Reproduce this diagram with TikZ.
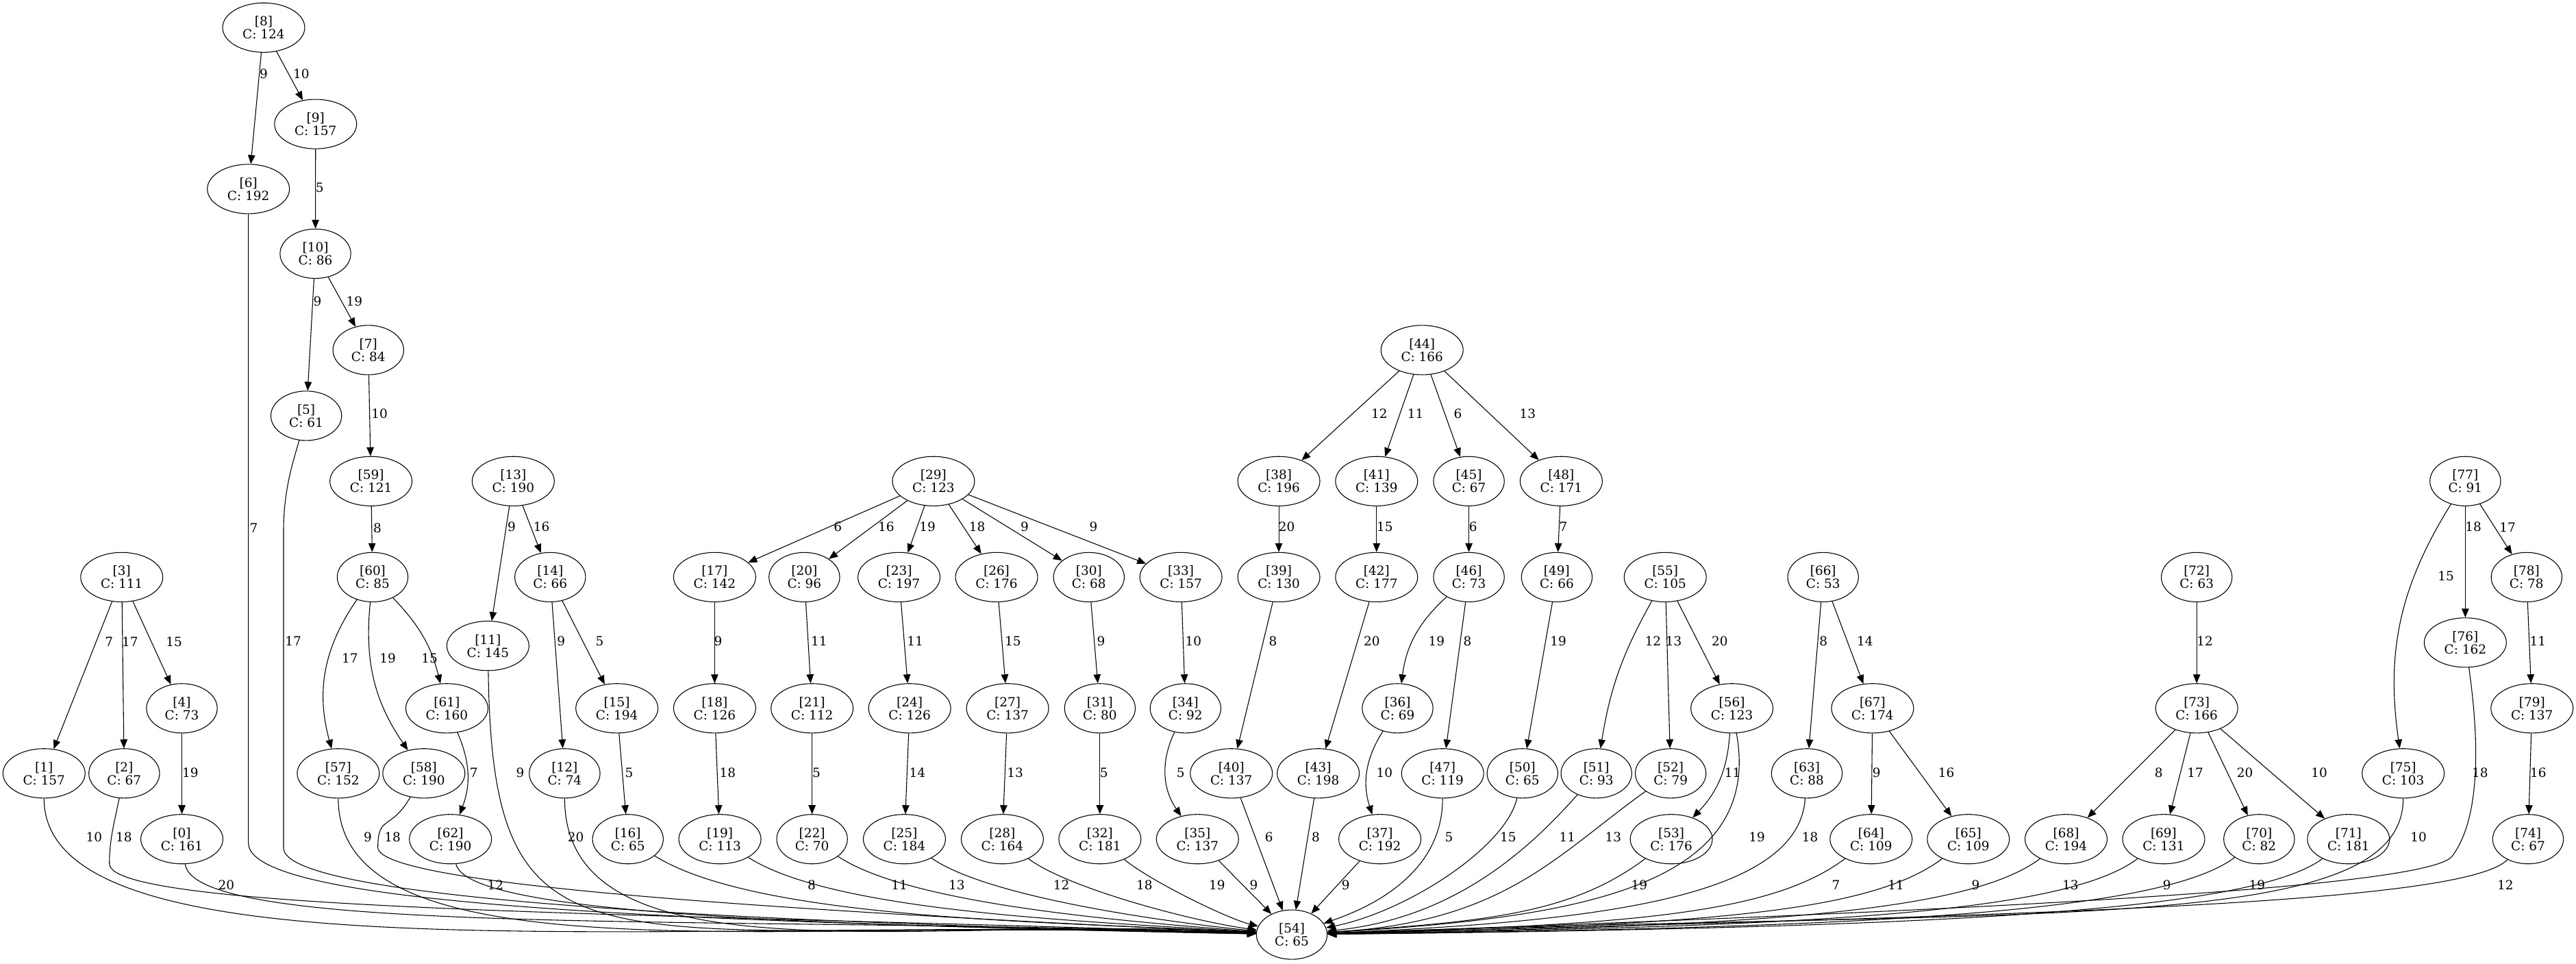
\documentclass[tikz,border=0pt]{standalone}
\usepackage{fontspec}
\setmainfont{DejaVu Serif}
\usetikzlibrary{shapes.geometric,arrows.meta}
\newcommand\gvfont{\fontsize{7.7}{7.9}\selectfont}
\tikzset{
  st/.style={draw, ellipse, line width=0.45pt, inner xsep=4.86pt, inner ysep=3.7pt, align=center, font=\gvfont},
  lb/.style={inner sep=0pt, font=\gvfont},
  ed/.style={-{Triangle[length=5.4pt,width=4.4pt]}, line width=0.45pt},
}

\begin{document}
\begin{tikzpicture}[x=1pt,y=-1pt]
  \useasboundingbox (0,0) rectangle (1568,586.2);

  % nodes
  \node[st] (n8) at (160.5,16.8) {[8]\\C: 124};
  \node[st] (n9) at (192.1,75.5) {[9]\\C: 157};
  \node[st] (n6) at (151.2,115) {[6]\\C: 192};
  \node[st] (n10) at (192,154.4) {[10]\\C: 86};
  \node[st] (n7) at (224.2,213) {[7]\\C: 84};
  \node[st] (n5) at (186.4,253) {[5]\\C: 61};
  \node[st] (n59) at (225.8,292.8) {[59]\\C: 121};
  \node[st] (n60) at (226.8,351.2) {[60]\\C: 85};
  \node[st] (n61) at (272,431) {[61]\\C: 160};
  \node[st] (n57) at (205.9,470.6) {[57]\\C: 152};
  \node[st] (n58) at (258,470.6) {[58]\\C: 190};
  \node[st] (n62) at (274.2,510.6) {[62]\\C: 190};
  \node[st] (n3) at (74.1,351.2) {[3]\\C: 111};
  \node[st] (n1) at (26.8,470.6) {[1]\\C: 157};
  \node[st] (n2) at (75.6,470.6) {[2]\\C: 67};
  \node[st] (n4) at (110.7,431) {[4]\\C: 73};
  \node[st] (n0) at (110.7,510.6) {[0]\\C: 161};
  \node[st] (n13) at (312.4,292.8) {[13]\\C: 190};
  \node[st] (n14) at (334.9,351.2) {[14]\\C: 66};
  \node[st] (n11) at (297,393) {[11]\\C: 145};
  \node[st] (n15) at (375.5,431) {[15]\\C: 194};
  \node[st] (n12) at (343.7,470.6) {[12]\\C: 74};
  \node[st] (n16) at (382.2,510.6) {[16]\\C: 65};
  \node[st] (n29) at (568.2,292.8) {[29]\\C: 123};
  \node[st] (n17) at (435,351.2) {[17]\\C: 142};
  \node[st] (n20) at (489.6,351.2) {[20]\\C: 96};
  \node[st] (n23) at (547.2,351.2) {[23]\\C: 197};
  \node[st] (n26) at (606.6,351.2) {[26]\\C: 176};
  \node[st] (n30) at (662.8,351.2) {[30]\\C: 68};
  \node[st] (n33) at (718.8,351.2) {[33]\\C: 157};
  \node[st] (n18) at (435,431) {[18]\\C: 126};
  \node[st] (n21) at (494.3,431) {[21]\\C: 112};
  \node[st] (n24) at (553.7,431) {[24]\\C: 126};
  \node[st] (n27) at (613.3,431) {[27]\\C: 137};
  \node[st] (n31) at (669.5,431) {[31]\\C: 80};
  \node[st] (n34) at (721.6,431) {[34]\\C: 92};
  \node[st] (n19) at (438.2,510.6) {[19]\\C: 113};
  \node[st] (n22) at (494.3,510.6) {[22]\\C: 70};
  \node[st] (n25) at (550.5,510.6) {[25]\\C: 184};
  \node[st] (n28) at (610.1,510.6) {[28]\\C: 164};
  \node[st] (n32) at (669.5,510.6) {[32]\\C: 181};
  \node[st] (n35) at (728.9,510.6) {[35]\\C: 137};
  \node[st] (n44) at (865.6,213) {[44]\\C: 166};
  \node[st] (n38) at (778.4,292.8) {[38]\\C: 196};
  \node[st] (n41) at (837.9,292.8) {[41]\\C: 139};
  \node[st] (n45) at (894.1,292.8) {[45]\\C: 67};
  \node[st] (n48) at (950.3,292.8) {[48]\\C: 171};
  \node[st] (n39) at (778.4,351.2) {[39]\\C: 130};
  \node[st] (n42) at (837.9,351.2) {[42]\\C: 177};
  \node[st] (n46) at (894.1,351.2) {[46]\\C: 73};
  \node[st] (n49) at (947.6,351.2) {[49]\\C: 66};
  \node[st] (n36) at (850.7,431) {[36]\\C: 69};
  \node[st] (n40) at (749.5,470.6) {[40]\\C: 137};
  \node[st] (n43) at (802.4,470.6) {[43]\\C: 198};
  \node[st] (n47) at (878.1,470.6) {[47]\\C: 119};
  \node[st] (n50) at (926.7,470.6) {[50]\\C: 65};
  \node[st] (n37) at (839.9,510.6) {[37]\\C: 192};
  \node[st] (n55) at (1013.6,351.2) {[55]\\C: 105};
  \node[st] (n56) at (1054.2,431) {[56]\\C: 123};
  \node[st] (n51) at (971.7,470.6) {[51]\\C: 93};
  \node[st] (n52) at (1016.9,470.6) {[52]\\C: 79};
  \node[st] (n53) at (1017.3,510.6) {[53]\\C: 176};
  \node[st] (n66) at (1109.7,351.2) {[66]\\C: 53};
  \node[st] (n67) at (1139.8,431) {[67]\\C: 174};
  \node[st] (n63) at (1099.8,470.6) {[63]\\C: 88};
  \node[st] (n64) at (1138.9,510.6) {[64]\\C: 109};
  \node[st] (n65) at (1198.1,510.6) {[65]\\C: 109};
  \node[st] (n72) at (1337.1,351.2) {[72]\\C: 63};
  \node[st] (n73) at (1337.1,431) {[73]\\C: 166};
  \node[st] (n68) at (1257.6,510.6) {[68]\\C: 194};
  \node[st] (n69) at (1317,510.6) {[69]\\C: 131};
  \node[st] (n70) at (1375.1,510.6) {[70]\\C: 82};
  \node[st] (n71) at (1429.5,510.6) {[71]\\C: 181};
  \node[st] (n77) at (1500.6,292.8) {[77]\\C: 91};
  \node[st] (n78) at (1537.9,351.2) {[78]\\C: 78};
  \node[st] (n76) at (1500.6,391) {[76]\\C: 162};
  \node[st] (n79) at (1541.2,431) {[79]\\C: 137};
  \node[st] (n75) at (1462.8,470.6) {[75]\\C: 103};
  \node[st] (n74) at (1538.8,510.6) {[74]\\C: 67};
  \node[st] (n54) at (786.3,568.7) {[54]\\C: 65};

  % tree edges
  \draw[ed] (n8) -- (n6);
  \draw[ed] (n8) -- (n9);
  \draw[ed] (n9) -- (n10);
  \draw[ed] (n10) -- (n5);
  \draw[ed] (n10) -- (n7);
  \draw[ed] (n7) -- (n59);
  \draw[ed] (n59) -- (n60);
  \draw[ed] (n60) to[bend right=25] (n57);
  \draw[ed] (n60) to[bend right=20] (n58);
  \draw[ed] (n60) to[bend left=15] (n61);
  \draw[ed] (n61) to[bend left=22] (n62);
  \draw[ed] (n3) -- (n1);
  \draw[ed] (n3) -- (n2);
  \draw[ed] (n3) -- (n4);
  \draw[ed] (n4) -- (n0);
  \draw[ed] (n13) -- (n11);
  \draw[ed] (n13) -- (n14);
  \draw[ed] (n14) -- (n12);
  \draw[ed] (n14) -- (n15);
  \draw[ed] (n15) -- (n16);
  \draw[ed] (n29) -- (n17);
  \draw[ed] (n29) -- (n20);
  \draw[ed] (n29) -- (n23);
  \draw[ed] (n29) -- (n26);
  \draw[ed] (n29) -- (n30);
  \draw[ed] (n29) -- (n33);
  \draw[ed] (n17) -- (n18);
  \draw[ed] (n18) -- (n19);
  \draw[ed] (n20) -- (n21);
  \draw[ed] (n21) -- (n22);
  \draw[ed] (n23) -- (n24);
  \draw[ed] (n24) -- (n25);
  \draw[ed] (n26) -- (n27);
  \draw[ed] (n27) -- (n28);
  \draw[ed] (n30) -- (n31);
  \draw[ed] (n31) -- (n32);
  \draw[ed] (n33) -- (n34);
  \draw[ed] (n34) to[bend right=30] (n35);
  \draw[ed] (n44) -- (n38);
  \draw[ed] (n44) -- (n41);
  \draw[ed] (n44) -- (n45);
  \draw[ed] (n44) -- (n48);
  \draw[ed] (n38) -- (n39);
  \draw[ed] (n39) -- (n40);
  \draw[ed] (n41) -- (n42);
  \draw[ed] (n42) -- (n43);
  \draw[ed] (n45) -- (n46);
  \draw[ed] (n46) to[bend right=20] (n36);
  \draw[ed] (n46) -- (n47);
  \draw[ed] (n36) to[bend right=25] (n37);
  \draw[ed] (n48) -- (n49);
  \draw[ed] (n49) -- (n50);
  \draw[ed] (n55) to[bend right=10] (n51);
  \draw[ed] (n55) -- (n52);
  \draw[ed] (n55) -- (n56);
  \draw[ed] (n56) to[bend left=20] (n53);
  \draw[ed] (n66) -- (n63);
  \draw[ed] (n66) -- (n67);
  \draw[ed] (n67) -- (n64);
  \draw[ed] (n67) -- (n65);
  \draw[ed] (n72) -- (n73);
  \draw[ed] (n73) -- (n68);
  \draw[ed] (n73) -- (n69);
  \draw[ed] (n73) -- (n70);
  \draw[ed] (n73) -- (n71);
  \draw[ed] (n77) to[bend right=20] (n75);
  \draw[ed] (n77) -- (n76);
  \draw[ed] (n77) -- (n78);
  \draw[ed] (n78) -- (n79);
  \draw[ed] (n79) -- (n74);

  % edges into [54]
  \draw[ed] (n1) .. controls +(0,130) and +(-366,-12.7) .. (n54);
  \draw[ed] (n2) .. controls +(-6,30) and +(0,-15) .. ++(-9,55) .. controls +(0,30) and +(-356,-12.7) .. (n54);
  \draw[ed] (n0) .. controls +(8,60) and +(-338,-12) .. (n54);
  \draw[ed] (n6) -- ++(0,398) .. controls +(0,38) and +(-380,-8) .. (n54);
  \draw[ed] (n5) .. controls +(-8,28) and +(0,-25) .. ++(-13.8,70) -- ++(0,193) .. controls +(0,30) and +(-360,-8) .. (n54);
  \draw[ed] (n57) .. controls +(0,130) and +(-290,-12.7) .. (n54);
  \draw[ed] (n58) .. controls +(-20,35) and +(0,-20) .. ++(-28,45) .. controls +(0,25) and +(-264,-12.7) .. (n54);
  \draw[ed] (n62) .. controls +(10,45) and +(-307,-6) .. (n54);
  \draw[ed] (n11) .. controls +(3,217) and +(-420,-12.7) .. (n54);
  \draw[ed] (n12) .. controls +(0,130) and +(-221,-12.7) .. (n54);
  \draw[ed] (n16) .. controls +(80,50) and +(-140,-8) .. (n54);
  \draw[ed] (n19) .. controls +(70,45) and +(-120,-8) .. (n54);
  \draw[ed] (n22) .. controls +(60,40) and +(-100,-8) .. (n54);
  \draw[ed] (n25) .. controls +(50,35) and +(-80,-8) .. (n54);
  \draw[ed] (n28) .. controls +(40,30) and +(-60,-8) .. (n54);
  \draw[ed] (n32) .. controls +(30,25) and +(-40,-10) .. (n54);
  \draw[ed] (n35) -- (n54);
  \draw[ed] (n40) -- (n54);
  \draw[ed] (n43) -- (n54);
  \draw[ed] (n37) -- (n54);
  \draw[ed] (n47) .. controls +(0,65) and +(40,-14) .. (n54);
  \draw[ed] (n50) .. controls +(-10,45) and +(70,-14) .. (n54);
  \draw[ed] (n51) .. controls +(-40,45) and +(100,-10) .. (n54);
  \draw[ed] (n52) .. controls +(-70,50) and +(130,-8) .. (n54);
  \draw[ed] (n53) .. controls +(-60,45) and +(120,-8) .. (n54);
  \draw[ed] (n56) .. controls +(20,110) and +(170,-10) .. (n54);
  \draw[ed] (n63) .. controls +(-5,75) and +(190,-8) .. (n54);
  \draw[ed] (n64) .. controls +(-60,45) and +(210,-6) .. (n54);
  \draw[ed] (n65) .. controls +(-60,45) and +(250,-6) .. (n54);
  \draw[ed] (n68) .. controls +(-60,45) and +(280,-5) .. (n54);
  \draw[ed] (n69) .. controls +(-60,45) and +(320,-5) .. (n54);
  \draw[ed] (n70) .. controls +(-60,45) and +(350,-4) .. (n54);
  \draw[ed] (n71) .. controls +(-60,45) and +(380,-4) .. (n54);
  \draw[ed] (n75) .. controls +(0,100) and +(450,-16.7) .. (n54);
  \draw[ed] (n76) .. controls +(10,70) and +(15,-20) .. ++(-8,130) .. controls +(-15,20) and +(400,-14) .. (n54);
  \draw[ed] (n74) .. controls +(-40,40) and +(450,-12) .. (n54);

  % edge labels
  \node[lb] (l8-6) at (160.5,44.9) {9};
  \node[lb] (l8-9) at (183.4,44.9) {10};
  \node[lb] (l9-10) at (194.6,114) {5};
  \node[lb] (l10-5) at (193.2,183.2) {9};
  \node[lb] (l10-7) at (215.7,183.2) {19};
  \node[lb] (l7-59) at (231,251.6) {10};
  \node[lb] (l59-60) at (229.7,321.5) {8};
  \node[lb] (l60-57) at (213,400.7) {17};
  \node[lb] (l60-58) at (236,400.7) {19};
  \node[lb] (l60-61) at (261.5,400.7) {15};
  \node[lb] (l61-62) at (288.4,470.3) {7};
  \node[lb] (l6-54) at (154.5,321.5) {7};
  \node[lb] (l5-54) at (178.5,390) {17};
  \node[lb] (l57-54) at (223.9,509.5) {9};
  \node[lb] (l58-54) at (238.9,509.5) {18};
  \node[lb] (l62-54) at (301.6,538.7) {12};
  \node[lb] (l3-1) at (66.4,390.5) {7};
  \node[lb] (l3-2) at (79.2,390.5) {17};
  \node[lb] (l3-4) at (105.9,390.5) {15};
  \node[lb] (l4-0) at (115.8,470.2) {19};
  \node[lb] (l1-54) at (57.3,509.3) {10};
  \node[lb] (l2-54) at (75.4,509.3) {18};
  \node[lb] (l0-54) at (137.7,538.7) {20};
  \node[lb] (l13-11) at (311.4,320.7) {9};
  \node[lb] (l13-14) at (329.6,320.7) {16};
  \node[lb] (l14-12) at (341.6,390) {9};
  \node[lb] (l14-15) at (365,390) {5};
  \node[lb] (l11-54) at (316.6,470.3) {9};
  \node[lb] (l12-54) at (350.5,509.5) {20};
  \node[lb] (l15-16) at (382.9,470.3) {5};
  \node[lb] (l16-54) at (494,538.7) {8};
  \node[lb] (l17-18) at (437.1,390) {9};
  \node[lb] (l18-19) at (442.9,470.3) {18};
  \node[lb] (l19-54) at (547.4,538.7) {11};
  \node[lb] (l20-21) at (498.6,390) {11};
  \node[lb] (l21-22) at (497,470.3) {5};
  \node[lb] (l22-54) at (582.4,538.7) {13};
  \node[lb] (l29-17) at (510,320.7) {6};
  \node[lb] (l29-20) at (539.4,320.7) {16};
  \node[lb] (l29-23) at (564.5,320.7) {19};
  \node[lb] (l29-26) at (594.8,320.7) {18};
  \node[lb] (l29-30) at (623.7,320.7) {9};
  \node[lb] (l29-33) at (665.6,320.7) {9};
  \node[lb] (l23-24) at (557,390) {11};
  \node[lb] (l26-27) at (616.6,390) {15};
  \node[lb] (l30-31) at (670.2,390) {9};
  \node[lb] (l33-34) at (726.4,390) {10};
  \node[lb] (l24-25) at (558.4,470.3) {14};
  \node[lb] (l27-28) at (617.9,470.3) {13};
  \node[lb] (l31-32) at (671.9,470.3) {5};
  \node[lb] (l34-35) at (718.6,470.3) {5};
  \node[lb] (l25-54) at (646,538.7) {12};
  \node[lb] (l28-54) at (696.6,538.7) {18};
  \node[lb] (l32-54) at (740.8,538.7) {19};
  \node[lb] (l35-54) at (763.1,538.7) {9};
  \node[lb] (l38-39) at (783.2,320.7) {20};
  \node[lb] (l39-40) at (774.8,390) {8};
  \node[lb] (l40-54) at (772.4,509.5) {6};
  \node[lb] (l44-38) at (839.6,251.6) {12};
  \node[lb] (l44-41) at (861.6,251.6) {11};
  \node[lb] (l44-45) at (887.4,251.6) {6};
  \node[lb] (l44-48) at (929.9,251.6) {13};
  \node[lb] (l41-42) at (842.9,320.7) {15};
  \node[lb] (l45-46) at (896.7,320.7) {6};
  \node[lb] (l48-49) at (951.6,320.7) {7};
  \node[lb] (l42-43) at (835,390) {20};
  \node[lb] (l46-36) at (874.4,390) {19};
  \node[lb] (l46-47) at (893.2,390) {8};
  \node[lb] (l49-50) at (948.5,390) {19};
  \node[lb] (l55-51) at (1006.2,390) {12};
  \node[lb] (l55-52) at (1018.8,390) {13};
  \node[lb] (l55-56) at (1046.8,390) {20};
  \node[lb] (l36-37) at (842.7,470.3) {10};
  \node[lb] (l56-53) at (1054.6,470.3) {11};
  \node[lb] (l43-54) at (800.9,509.5) {8};
  \node[lb] (l47-54) at (882,509.5) {5};
  \node[lb] (l50-54) at (918,509.5) {15};
  \node[lb] (l51-54) at (954,509.5) {11};
  \node[lb] (l52-54) at (982,509.5) {13};
  \node[lb] (l56-54) at (1069.4,509.5) {19};
  \node[lb] (l37-54) at (819.1,538.7) {9};
  \node[lb] (l53-54) at (997.8,538.7) {19};
  \node[lb] (l66-63) at (1109.9,390) {8};
  \node[lb] (l66-67) at (1135.2,390) {14};
  \node[lb] (l72-73) at (1342.1,390) {12};
  \node[lb] (l67-64) at (1142.2,470.3) {9};
  \node[lb] (l67-65) at (1184.7,470.3) {16};
  \node[lb] (l73-68) at (1314,470.3) {8};
  \node[lb] (l73-69) at (1336.2,470.3) {17};
  \node[lb] (l73-70) at (1366.5,470.3) {20};
  \node[lb] (l73-71) at (1411.7,470.3) {10};
  \node[lb] (l63-54) at (1101.7,509.5) {18};
  \node[lb] (l75-54) at (1472.1,509.5) {10};
  \node[lb] (l64-54) at (1117.5,538.7) {7};
  \node[lb] (l65-54) at (1154,538.7) {11};
  \node[lb] (l68-54) at (1202.6,538.7) {9};
  \node[lb] (l69-54) at (1260.3,538.7) {13};
  \node[lb] (l70-54) at (1319,538.7) {9};
  \node[lb] (l71-54) at (1373.9,538.7) {19};
  \node[lb] (l74-54) at (1525,538.7) {12};
  \node[lb] (l77-75) at (1488.8,350.7) {15};
  \node[lb] (l77-76) at (1505.5,320.7) {18};
  \node[lb] (l77-78) at (1526.3,320.7) {17};
  \node[lb] (l78-79) at (1544.8,390) {11};
  \node[lb] (l79-74) at (1545,470.3) {16};
  \node[lb] (l76-54) at (1509.6,470.3) {18};
\end{tikzpicture}
\end{document}
